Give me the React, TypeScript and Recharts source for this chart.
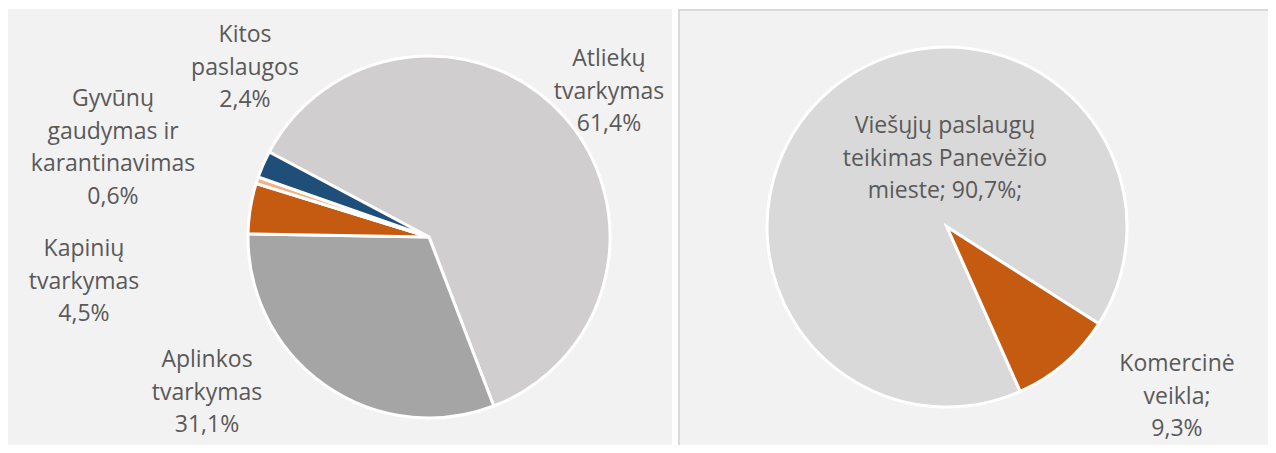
import React from "react";
import { PieChart, Pie, Cell } from "recharts";

// ---- data ----
const leftCategories = [
  "Atliekų tvarkymas",
  "Aplinkos tvarkymas",
  "Kapinių tvarkymas",
  "Gyvūnų gaudymas ir karantinavimas",
  "Kitos paslaugos",
];
const leftValues = [61.4, 31.1, 4.5, 0.6, 2.4];
const leftLabelLines = [
  ["Atliekų", "tvarkymas"],
  ["Aplinkos", "tvarkymas"],
  ["Kapinių", "tvarkymas"],
  ["Gyvūnų", "gaudymas ir", "karantinavimas"],
  ["Kitos", "paslaugos"],
];

const rightCategories = ["Viešųjų paslaugų teikimas Panevėžio mieste", "Komercinė veikla"];
const rightValues = [90.7, 9.3];
const rightLabelLines = [
  ["Viešųjų paslaugų", "teikimas Panevėžio", "mieste; {v};"],
  ["Komercinė", "veikla;", "{v}"],
];

// ---- styles ----
const leftColors = ["#d0cece", "#a5a5a5", "#c55a11", "#f4b183", "#1f4e79"];
const rightColors = ["#d9d9d9", "#c55a11"];
const leftLabelOffsets = [
  { dx: 180, dy: -180 },
  { dx: -222, dy: 121 },
  { dx: -345, dy: 10 },
  { dx: -316, dy: -140 },
  { dx: -184, dy: -204 },
];
const rightLabelOffsets = [
  { dx: -2, dy: -103 },
  { dx: 230, dy: 135 },
];

const FONT = "'Open Sans', sans-serif";
const FS = 23;
const LH = 32.5;
const TXT = "#595959";
const NOMARGIN = { top: 0, right: 0, bottom: 0, left: 0 };

const fmt = (v: number) => v.toFixed(1).replace(".", ",") + "%";

const leftData = leftCategories.map((name, i) => ({ name, value: leftValues[i] }));
const rightData = rightCategories.map((name, i) => ({ name, value: rightValues[i] }));

function makeLabel(
  lines: string[][],
  offsets: { dx: number; dy: number }[],
  appendValueLine: boolean
) {
  return (props: any) => {
    const { cx, cy, index, value } = props;
    const off = offsets[index];
    const raw = lines[index].map((l) => l.replace("{v}", fmt(value)));
    const all = appendValueLine ? [...raw, fmt(value)] : raw;
    const x = cx + off.dx;
    const y0 = cy + off.dy;
    return (
      <text
        key={"lbl" + index}
        x={x}
        y={y0}
        textAnchor="middle"
        dominantBaseline="central"
        fill={TXT}
        fontFamily={FONT}
        fontSize={FS}
      >
        {all.map((l, k) => (
          <tspan key={k} x={x} y={y0 + k * LH}>
            {l}
          </tspan>
        ))}
      </text>
    );
  };
}

export default function App() {
  return (
    <div style={{ position: "relative", margin: -8, width: 1276, height: 453, background: "#ffffff", overflow: "hidden" }}>
      <div style={{ position: "absolute", left: 7, top: 9, width: 665, height: 444, background: "#f2f2f2" }}>
        <PieChart width={665} height={444} margin={NOMARGIN}>
          <Pie
            data={leftData}
            dataKey="value"
            nameKey="name"
            cx={422}
            cy={228}
            outerRadius={181}
            startAngle={-208}
            endAngle={-568}
            stroke="#ffffff"
            strokeWidth={3}
            isAnimationActive={false}
            labelLine={false}
            label={makeLabel(leftLabelLines, leftLabelOffsets, true)}
          >
            {leftData.map((d, i) => (
              <Cell key={d.name} fill={leftColors[i]} />
            ))}
          </Pie>
        </PieChart>
      </div>
      <div
        style={{
          position: "absolute",
          left: 678,
          top: 9,
          width: 591,
          height: 450,
          background: "#f2f2f2",
          border: "2px solid #d9d9d9",
        }}
      >
        <PieChart width={591} height={444} margin={NOMARGIN}>
          <Pie
            data={rightData}
            dataKey="value"
            nameKey="name"
            cx={267}
            cy={216}
            outerRadius={180}
            startAngle={-66}
            endAngle={-426}
            stroke="#ffffff"
            strokeWidth={3}
            isAnimationActive={false}
            labelLine={false}
            label={makeLabel(rightLabelLines, rightLabelOffsets, false)}
          >
            {rightData.map((d, i) => (
              <Cell key={d.name} fill={rightColors[i]} />
            ))}
          </Pie>
        </PieChart>
      </div>
    </div>
  );
}
